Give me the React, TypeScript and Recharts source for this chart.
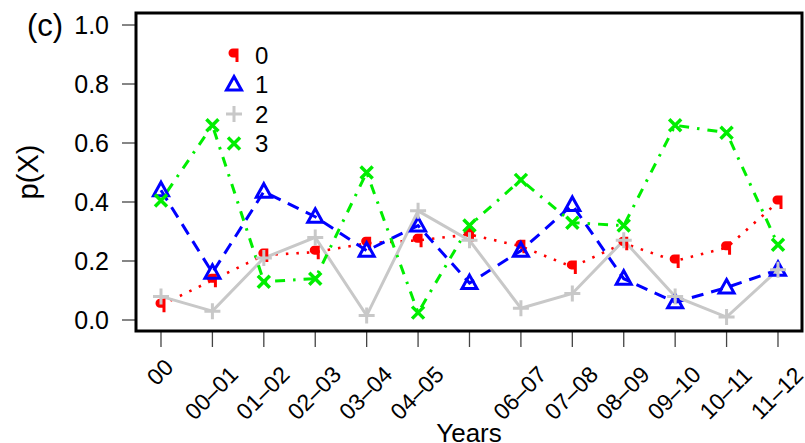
import { LineChart, Line, XAxis, YAxis, Legend, Label } from 'recharts';

document.body.style.margin = '0';

const FONT = '"Liberation Sans", Arial, sans-serif';

// x positions: one per period; "05–06" has a tick but its label was dropped in the original
const periods = ['00', '00–01', '01–02', '02–03', '03–04', '04–05', '05–06', '06–07', '07–08', '08–09', '09–10', '10–11', '11–12'];
const tickLabels = ['00', '00–01', '01–02', '02–03', '03–04', '04–05', '', '06–07', '07–08', '08–09', '09–10', '10–11', '11–12'];
const yTicks = [0, 0.2, 0.4, 0.6, 0.8, 1.0];

const p0 = [0.05, 0.135, 0.22, 0.23, 0.26, 0.27, 0.29, 0.25, 0.18, 0.26, 0.2, 0.245, 0.4];
const p1 = [0.44, 0.16, 0.435, 0.35, 0.235, 0.32, 0.125, 0.235, 0.39, 0.14, 0.06, 0.11, 0.17];
const p2 = [0.08, 0.03, 0.21, 0.28, 0.015, 0.37, 0.27, 0.04, 0.09, 0.27, 0.08, 0.01, 0.17];
const p3 = [0.405, 0.66, 0.13, 0.14, 0.5, 0.025, 0.32, 0.475, 0.33, 0.32, 0.66, 0.635, 0.255];

const data = periods.map((name, i) => ({ i, name, s0: p0[i], s1: p1[i], s2: p2[i], s3: p3[i] }));

const RED = '#ff0000';
const BLUE = '#0000ff';
const GRAY = '#c8c8c8';
const GREEN = '#00ee00';

const Blob = ({ cx, cy }: { cx: number; cy: number }) => (
  <path
    transform={`translate(${cx},${cy})`}
    d="M -1 -6.5 H 4.5 V 7 H 1.5 V 2.5 H -1 A 4.5 4.5 0 0 1 -1 -6.5 Z"
    fill={RED}
  />
);
const Tri = ({ cx, cy }: { cx: number; cy: number }) => (
  <path
    transform={`translate(${cx},${cy})`}
    d="M 0 -8 L 7.5 5.5 L -7.5 5.5 Z"
    fill="none"
    stroke={BLUE}
    strokeWidth={3}
  />
);
const Plus = ({ cx, cy }: { cx: number; cy: number }) => (
  <path
    transform={`translate(${cx},${cy})`}
    d="M -8 0 H 8 M 0 -8 V 8"
    stroke={GRAY}
    strokeWidth={3}
  />
);
const Cross = ({ cx, cy }: { cx: number; cy: number }) => (
  <path
    transform={`translate(${cx},${cy})`}
    d="M -6 -6 L 6 6 M 6 -6 L -6 6"
    stroke={GREEN}
    strokeWidth={3.5}
  />
);

const XTick = (props: any) => {
  const { x, payload } = props;
  const label = tickLabels[payload.value] ?? '';
  if (!label) return null;
  const cx = x - 1;
  const cy = 358 + 7 * label.length;
  return (
    <text
      x={cx}
      y={cy}
      transform={`rotate(-45 ${cx} ${cy})`}
      textAnchor="middle"
      dominantBaseline="central"
      fontSize={23}
      fontFamily={FONT}
      fill="#000"
    >
      {label}
    </text>
  );
};

const legendRows = [
  { label: '0', Sym: Blob },
  { label: '1', Sym: Tri },
  { label: '2', Sym: Plus },
  { label: '3', Sym: Cross },
];

const Overlay = () => (
  <svg width={805} height={443} style={{ position: 'absolute', left: 0, top: 0, pointerEvents: 'none' }}>
    <rect x={136} y={13} width={666} height={318} fill="none" stroke="#000" strokeWidth={3} />
    <text x={27} y={36} fontSize={31} fontFamily={FONT} fill="#000">(c)</text>
    {legendRows.map((r, k) => {
      const y = 55 + k * 29.5;
      return (
        <g key={r.label}>
          <r.Sym cx={234} cy={y} />
          <text x={255} y={y} dy="0.36em" fontSize={24} fontFamily={FONT} fill="#000">{r.label}</text>
        </g>
      );
    })}
  </svg>
);

export default function App() {
  return (
    <div style={{ position: 'relative', width: 805, height: 443, background: '#fff' }}>
      <LineChart width={805} height={443} data={data} margin={{ top: 13, right: 3, bottom: 0, left: 0 }}>
        <XAxis
          dataKey="i"
          type="number"
          domain={[-0.486, 12.467]}
          ticks={periods.map((_, i) => i)}
          allowDataOverflow
          axisLine={false}
          tickLine={{ stroke: '#444', strokeWidth: 1.3 }}
          tickSize={16}
          height={112}
          tick={<XTick />}
          interval={0}
        >
          <Label
            value="Years"
            position="insideBottom"
            offset={1}
            style={{ fontSize: 26, fontFamily: FONT, fill: '#000' }}
          />
        </XAxis>
        <YAxis
          type="number"
          domain={[-0.0373, 1.0407]}
          ticks={yTicks}
          allowDataOverflow
          width={136}
          axisLine={false}
          tickLine={{ stroke: '#444', strokeWidth: 1.3 }}
          tickSize={14}
          tickMargin={13}
          tickFormatter={(v: number) => v.toFixed(1)}
          tick={{ fontSize: 25, fontFamily: FONT, fill: '#000' }}
        >
          <Label
            value="p(X)"
            angle={-90}
            position="insideLeft"
            offset={28}
            style={{ fontSize: 29, fontFamily: FONT, fill: '#000', textAnchor: 'middle' }}
          />
        </YAxis>
        <Line
          dataKey="s0"
          type="linear"
          stroke={RED}
          strokeWidth={2.6}
          strokeDasharray="2.5 8"
          dot={(p: any) => <Blob key={`a${p.index}`} cx={p.cx} cy={p.cy} />}
          isAnimationActive={false}
        />
        <Line
          dataKey="s1"
          type="linear"
          stroke={BLUE}
          strokeWidth={3}
          strokeDasharray="12 8"
          dot={(p: any) => <Tri key={`b${p.index}`} cx={p.cx} cy={p.cy} />}
          isAnimationActive={false}
        />
        <Line
          dataKey="s2"
          type="linear"
          stroke={GRAY}
          strokeWidth={3}
          dot={(p: any) => <Plus key={`c${p.index}`} cx={p.cx} cy={p.cy} />}
          isAnimationActive={false}
        />
        <Line
          dataKey="s3"
          type="linear"
          stroke={GREEN}
          strokeWidth={3}
          strokeDasharray="2.5 8 10 8"
          dot={(p: any) => <Cross key={`d${p.index}`} cx={p.cx} cy={p.cy} />}
          isAnimationActive={false}
        />
        <Legend
          layout="horizontal"
          verticalAlign="middle"
          align="center"
          wrapperStyle={{ left: 0, top: 0, width: 805, height: 443 }}
          content={() => <Overlay />}
        />
      </LineChart>
    </div>
  );
}
